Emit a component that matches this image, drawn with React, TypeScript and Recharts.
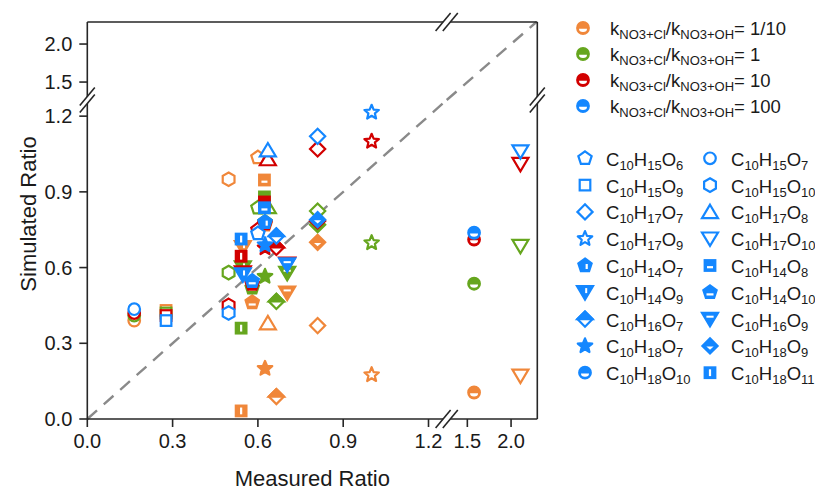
import React from 'react';
import { ScatterChart, Scatter, XAxis, YAxis, ReferenceLine } from 'recharts';

// species, in legend reading order (left column, right column, row by row)
const species = [
  'C10H15O6', 'C10H15O7', 'C10H15O9', 'C10H15O10', 'C10H17O7', 'C10H17O8',
  'C10H17O9', 'C10H17O10', 'C10H14O7', 'C10H14O8', 'C10H14O9', 'C10H14O10',
  'C10H16O7', 'C10H16O9', 'C10H18O7', 'C10H18O9', 'C10H18O10', 'C10H18O11',
];
const measuredRatio = [
  0.6, 0.165, 0.277, 0.497, 0.81, 0.635, 1.0, 2.107, 0.625, 0.623, 0.547, 0.58,
  0.665, 0.703, 0.625, 0.81, 1.577, 0.541,
];
// simulated ratio for each kNO3+Cl/kNO3+OH setting
const simTenth = [1.036, 0.39, 0.43, 0.95, 0.37, 0.38, 0.175, 0.171, 0.77, 0.947, 0.68, 0.462, 0.089, 0.5, 0.2, 0.7, 0.105, 0.032];
const simOne = [0.837, 0.41, 0.42, 0.58, 0.824, 0.84, 0.698, 0.685, 0.78, 0.88, 0.6, 0.52, 0.466, 0.578, 0.565, 0.77, 0.536, 0.36];
const simTen = [0.75, 0.42, 0.41, 0.45, 1.07, 1.03, 1.1, 1.01, 0.775, 0.86, 0.58, 0.535, 0.68, 0.615, 0.678, 0.785, 0.711, 0.645];
const simHundred = [0.735, 0.435, 0.39, 0.42, 1.12, 1.065, 1.215, 1.06, 0.78, 0.837, 0.572, 0.546, 0.725, 0.612, 0.69, 0.79, 0.738, 0.713];

const kRatios = ['1/10', '1', '10', '100'];
const simulated = [simTenth, simOne, simTen, simHundred];
const colors = ['#F0873A', '#66A61E', '#D20000', '#1487FF'];

const lowerTicks = [0, 0.3, 0.6, 0.9, 1.2];
const upperTicks = [1.5, 2.0];

const FONT = '"Liberation Sans", Arial, sans-serif';
const AXIS = '#262626';
const TEXT = '#1a1a1a';
const W = 815;
const H = 490;

// plot frame in page pixels, and the break value
const X0 = 87.3, XB = 446.7, X1 = 537.3;
const Y0 = 419, YB = 100, Y1 = 22;
const BRK = 1.264, X_MAX = 2.3, Y_MAX = 2.29;

const poly = (n: number, r: number, cx: number, cy: number) =>
  Array.from({ length: n }, (_, i) => {
    const a = -Math.PI / 2 + (i * 2 * Math.PI) / n;
    return `${cx + r * Math.cos(a)},${cy + r * Math.sin(a)}`;
  }).join(' ');

const star = (ro: number, cx: number, cy: number) =>
  Array.from({ length: 10 }, (_, i) => {
    const r = i % 2 === 0 ? ro : ro * 0.45;
    const a = -Math.PI / 2 + (i * Math.PI) / 5;
    return `${cx + r * Math.cos(a)},${cy + r * Math.sin(a)}`;
  }).join(' ');

function Marker({ kind, cx, cy, color }: { kind: number; cx: number; cy: number; color: string }) {
  const sw = 2.2;
  const open = { fill: '#fff', stroke: color, strokeWidth: sw };
  const solid = { fill: color, stroke: color, strokeWidth: sw };
  const triUp = `${cx},${cy - 7.2} ${cx + 8},${cy + 6.2} ${cx - 8},${cy + 6.2}`;
  const triDown = `${cx - 8},${cy - 6.2} ${cx + 8},${cy - 6.2} ${cx},${cy + 7.2}`;
  const diamond = `${cx},${cy - 7.6} ${cx + 7.6},${cy} ${cx},${cy + 7.6} ${cx - 7.6},${cy}`;
  switch (kind) {
    case 0: return <polygon points={poly(5, 7, cx, cy)} {...open} />;
    case 1: return <circle cx={cx} cy={cy} r={5.8} {...open} />;
    case 2: return <rect x={cx - 5.3} y={cy - 5.3} width={10.6} height={10.6} {...open} />;
    case 3: return <polygon points={poly(6, 6.8, cx, cy)} {...open} />;
    case 4: return <polygon points={diamond} {...open} />;
    case 5: return <polygon points={triUp} {...open} />;
    case 6: return <polygon points={star(7.6, cx, cy)} {...open} strokeLinejoin="round" />;
    case 7: return <polygon points={triDown} {...open} />;
    case 8:
      return (<g><polygon points={poly(5, 7, cx, cy)} {...solid} />
        <rect x={cx + 0.6} y={cy - 1.5} width={2.2} height={5} fill="#fff" /></g>);
    case 9:
      return (<g><rect x={cx - 5.3} y={cy - 5.3} width={10.6} height={10.6} {...solid} />
        <rect x={cx - 3} y={cy + 0.6} width={6} height={2.2} fill="#fff" /></g>);
    case 10:
      return (<g><polygon points={triDown} {...solid} />
        <rect x={cx + 0.2} y={cy - 4.2} width={2} height={5} fill="#fff" /></g>);
    case 11:
      return (<g><polygon points={poly(5, 7, cx, cy)} {...solid} />
        <rect x={cx - 3.5} y={cy + 1} width={7} height={2.2} fill="#fff" /></g>);
    case 12:
      return (<g><polygon points={diamond} {...open} />
        <polygon points={`${cx - 7.6},${cy} ${cx},${cy - 7.6} ${cx + 7.6},${cy}`} {...solid} /></g>);
    case 13:
      return (<g><polygon points={triDown} {...solid} />
        <rect x={cx - 3.6} y={cy - 3.4} width={7.2} height={2} fill="#fff" /></g>);
    case 14: return <polygon points={star(7.6, cx, cy)} {...solid} strokeLinejoin="round" />;
    case 15:
      return (<g><polygon points={diamond} {...solid} />
        <polygon points={`${cx - 3.6},${cy + 0.6} ${cx + 3.6},${cy + 0.6} ${cx},${cy + 3.8}`} fill="#fff" /></g>);
    case 16:
      return (<g><circle cx={cx} cy={cy} r={5.8} {...solid} />
        <path d={`M${cx - 4} ${cy + 0.8} A4 3.2 0 0 0 ${cx + 4} ${cy + 0.8} Z`} fill="#fff" /></g>);
    default:
      return (<g><rect x={cx - 5.3} y={cy - 5.3} width={10.6} height={10.6} {...solid} />
        <rect x={cx - 1.1} y={cy - 3.4} width={2.2} height={6.8} fill="#fff" /></g>);
  }
}

const pointsFor = (c: number, xr: number[], yr: number[]) =>
  species
    .map((_, i) => ({ x: measuredRatio[i], y: simulated[c][i], k: i }))
    .filter((p) => p.x >= xr[0] && p.x <= xr[1] && p.y >= yr[0] && p.y <= yr[1]);

const fmt = (v: number) => v.toFixed(1);
const tickText = { fontSize: 20, fill: TEXT, fontFamily: FONT };
const line = { stroke: AXIS, strokeWidth: 1.6 };

interface PanelProps {
  px: number[];
  py: number[];
  xDomain: number[];
  yDomain: number[];
  xTicks: number[];
  yTicks: number[];
  xOrient: 'top' | 'bottom';
  yOrient: 'left' | 'right';
  xLabels: boolean;
  yLabels: boolean;
  children?: React.ReactNode;
}

function Panel({ px, py, xDomain, yDomain, xTicks, yTicks, xOrient, yOrient, xLabels, yLabels, children }: PanelProps) {
  const YW = 60;
  const XH = xOrient === 'top' ? 20 : 40;
  const margin = {
    left: yOrient === 'left' ? px[0] - YW : px[0],
    right: yOrient === 'right' ? W - px[1] - YW : W - px[1],
    top: xOrient === 'top' ? py[0] - XH : py[0],
    bottom: xOrient === 'bottom' ? H - py[1] - XH : H - py[1],
  };
  return (
    <div style={{ position: 'absolute', left: 0, top: 0 }}>
      <ScatterChart width={W} height={H} margin={margin}>
        <XAxis type="number" dataKey="x" domain={xDomain} allowDataOverflow ticks={xTicks} interval={0}
          orientation={xOrient} height={XH} tickSize={8} tickMargin={7} axisLine={line} tickLine={line}
          tick={xLabels ? tickText : false} tickFormatter={fmt} />
        <YAxis type="number" dataKey="y" domain={yDomain} allowDataOverflow ticks={yTicks} interval={0}
          orientation={yOrient} width={YW} tickSize={8} tickMargin={7} axisLine={line} tickLine={line}
          tick={yLabels ? tickText : false} tickFormatter={fmt} />
        {children}
        {colors.map((c, ci) => (
          <Scatter key={c} data={pointsFor(ci, xDomain, yDomain)} fill={c} isAnimationActive={false}
            shape={(p: any) => <Marker kind={p.payload.k} cx={p.cx} cy={p.cy} color={c} />} />
        ))}
      </ScatterChart>
    </div>
  );
}

function Formula({ x, y, text }: { x: number; y: number; text: string }) {
  const parts = text.match(/[A-Z][a-z]?|\d+/g) || [];
  let down = false;
  return (
    <text x={x} y={y} fontSize={18.5} fill={TEXT} fontFamily={FONT}>
      {parts.map((t, i) => {
        const isNum = /\d/.test(t);
        const dy = isNum && !down ? 4 : !isNum && down ? -4 : 0;
        down = isNum;
        return <tspan key={i} dy={dy} fontSize={isNum ? 13 : 18.5}>{t}</tspan>;
      })}
    </text>
  );
}

// axis break mark "//" centred on an axis line
function Break({ cx, cy, vertical }: { cx: number; cy: number; vertical: boolean }) {
  const off = 3.6;
  const a = vertical ? [cx, cy - off] : [cx - off, cy];
  const b = vertical ? [cx, cy + off] : [cx + off, cy];
  const seg = (p: number[]) => [p[0] - 7.5, p[1] + 9, p[0] + 7.5, p[1] - 9];
  const s1 = seg(a);
  const s2 = seg(b);
  return (
    <g>
      <polygon points={`${s1[0]},${s1[1]} ${s1[2]},${s1[3]} ${s2[2]},${s2[3]} ${s2[0]},${s2[1]}`} fill="#fff" />
      <line x1={s1[0]} y1={s1[1]} x2={s1[2]} y2={s1[3]} stroke={AXIS} strokeWidth={1.6} />
      <line x1={s2[0]} y1={s2[1]} x2={s2[2]} y2={s2[3]} stroke={AXIS} strokeWidth={1.6} />
    </g>
  );
}

const dash = { stroke: '#8a8a8a', strokeWidth: 2.4, strokeDasharray: '13 9' };

export default function App() {
  const xLow = [0, BRK];
  const xHigh = [BRK, X_MAX];
  const yLow = [0, BRK];
  const yHigh = [BRK, Y_MAX];
  return (
    <div style={{ position: 'absolute', left: 0, top: 0, width: W, height: H, background: '#fff', fontFamily: FONT }}>
      <Panel px={[X0, XB]} py={[Y1, YB]} xDomain={xLow} yDomain={yHigh} xTicks={lowerTicks} yTicks={upperTicks}
        xOrient="top" yOrient="left" xLabels={false} yLabels />
      <Panel px={[XB, X1]} py={[Y1, YB]} xDomain={xHigh} yDomain={yHigh} xTicks={upperTicks} yTicks={upperTicks}
        xOrient="top" yOrient="right" xLabels={false} yLabels={false}>
        <ReferenceLine segment={[{ x: BRK, y: BRK }, { x: Y_MAX, y: Y_MAX }]} {...dash} />
      </Panel>
      <Panel px={[X0, XB]} py={[YB, Y0]} xDomain={xLow} yDomain={yLow} xTicks={lowerTicks} yTicks={lowerTicks}
        xOrient="bottom" yOrient="left" xLabels yLabels>
        <ReferenceLine segment={[{ x: 0, y: 0 }, { x: BRK, y: BRK }]} {...dash} />
      </Panel>
      <Panel px={[XB, X1]} py={[YB, Y0]} xDomain={xHigh} yDomain={yLow} xTicks={upperTicks} yTicks={lowerTicks}
        xOrient="bottom" yOrient="right" xLabels yLabels={false} />

      <svg width={W} height={H} style={{ position: 'absolute', left: 0, top: 0, pointerEvents: 'none' }}>
        <Break cx={X0} cy={YB} vertical />
        <Break cx={X1} cy={YB} vertical />
        <Break cx={XB} cy={Y0} vertical={false} />
        <Break cx={XB} cy={Y1} vertical={false} />

        <text x={(X0 + X1) / 2} y={486} textAnchor="middle" fontSize={22} fill={TEXT} fontFamily={FONT}>
          Measured Ratio
        </text>
        <text transform="translate(36,214) rotate(-90)" textAnchor="middle" fontSize={22} fill={TEXT} fontFamily={FONT}>
          Simulated Ratio
        </text>

        {kRatios.map((k, i) => {
          const y = 28 + i * 26;
          return (
            <g key={k}>
              <Marker kind={16} cx={583} cy={y} color={colors[i]} />
              <text x={610} y={y + 7} fontSize={18.5} fill={TEXT} fontFamily={FONT}>
                <tspan>k</tspan>
                <tspan fontSize={13} dy={4}>NO3+Cl</tspan>
                <tspan dy={-4}>/k</tspan>
                <tspan fontSize={13} dy={4}>NO3+OH</tspan>
                <tspan dy={-4}>= {k}</tspan>
              </text>
            </g>
          );
        })}

        {species.map((s, i) => {
          const col = i % 2;
          const row = Math.floor(i / 2);
          const y = 158.3 + row * 26.8;
          const mx = col === 0 ? 585 : 710;
          return (
            <g key={s}>
              <Marker kind={i} cx={mx} cy={y} color={colors[3]} />
              <Formula x={mx + 21} y={y + 7.5} text={s} />
            </g>
          );
        })}
      </svg>
    </div>
  );
}
